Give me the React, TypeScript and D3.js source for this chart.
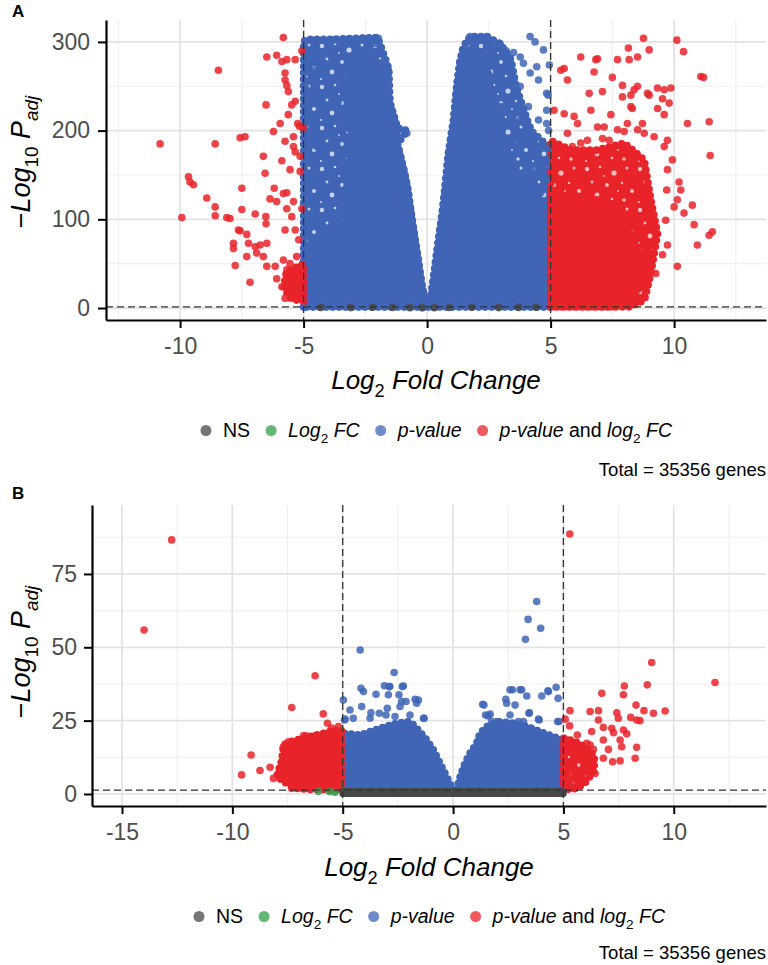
import React, { useEffect, useRef } from "react";
import * as d3 from "d3";

type Pt = [number, number];

const FONT = "'Liberation Sans', Arial, Helvetica, sans-serif";
const COL = { ns: "#474747", fc: "#2f9e46", p: "#4065b6", both: "#e8232a" };

// ---------- Panel A data (log2FC, -log10 Padj) ----------
const aXTicks = [-10, -5, 0, 5, 10];
const aXMinor = [-12.5, -7.5, -2.5, 2.5, 7.5, 12.5];
const aYTicks = [0, 100, 200, 300];
const aYMinor = [50, 150, 250];

const aNsPts: Pt[] = [[-4.3, 0.7], [-3.1, 0.5], [-2.2, 0.9], [-1.4, 0.6], [-0.7, 0.4], [-0.2, 0.2], [0.3, 0.3], [0.9, 0.6], [1.8, 0.8], [2.9, 0.5], [3.7, 0.7], [4.4, 0.9]];

const aBlueLeftOuter: Pt[] = [[-5, 1.3], [-5, 300], [-4.9, 303], [-3.8, 303], [-2.0, 305], [-1.55, 270], [-1.5, 231], [-1.2, 203], [-0.8, 200], [-1.2, 185], [-0.95, 157], [-0.8, 137], [-0.6, 99], [-0.4, 62], [-0.2, 24], [-0.05, 5], [0, 1.3]];
const aBlueLeftCore: Pt[] = [[-5, 1.3], [-5, 62], [-3.5, 99], [-3.25, 137], [-3.1, 193], [-3.25, 250], [-3.0, 275], [-2.2, 285], [-1.7, 268], [-1.5, 231], [-1.2, 203], [-1.2, 185], [-0.95, 157], [-0.8, 137], [-0.6, 99], [-0.4, 62], [-0.2, 24], [-0.05, 5], [0, 1.3]];
const aBlueRightOuter: Pt[] = [[0.05, 1.3], [0.12, 5.6], [0.39, 62], [0.66, 118], [0.86, 174], [1.07, 212], [1.2, 250], [1.34, 280], [1.47, 295], [1.74, 306], [2.42, 306], [2.96, 298], [3.4, 280], [3.6, 250], [4.2, 200], [4.6, 190], [5, 180], [5, 1.3]];
const aBlueRightCore: Pt[] = [[0.05, 1.3], [0.12, 5.6], [0.39, 62], [0.66, 118], [0.86, 174], [1.07, 212], [1.2, 250], [1.34, 280], [1.6, 292], [2.42, 280], [2.55, 250], [2.82, 212], [3.08, 174], [3.9, 137], [5, 110], [5, 1.3]];
const aRedRightOuter: Pt[] = [[5, 1.3], [5, 189], [5.82, 178], [6.88, 178], [7.98, 186], [8.79, 167], [9.06, 122], [9.33, 84], [9.06, 39], [8.8, 9], [8.2, 1.3]];
const aRedRightCore: Pt[] = [[5, 1.3], [5, 125], [5.67, 122], [6.88, 122], [7.69, 114], [8.24, 84], [8.79, 47], [8.5, 17], [7.98, 3.4], [7.5, 1.3]];
const aRedLeftCore: Pt[] = [[-5, 8], [-5, 50], [-5.3, 46], [-5.7, 40], [-5.8, 25], [-5.6, 12], [-5.3, 9]];

const aBluePts: Pt[] = [
  [-1.23, 201], [-0.89, 199], [-0.82, 197], [-1.5, 227], [-1.57, 268], [-1.97, 304], [-2.1, 298], [-4.74, 287], [-4.6, 268], [-4.94, 250], [-4.74, 234], [-4.8, 212], [-4.67, 204], [-4.47, 182], [-4.87, 167], [-4.94, 152], [-4.8, 122], [-4.74, 99], [-3.79, 302], [-3.5, 300], [-3.2, 303], [-2.9, 301], [-2.6, 304], [-2.3, 300], [-4.9, 292], [-4.3, 240], [-4.0, 226], [-3.6, 232],
  [4.17, 306], [4.37, 300], [4.71, 291], [3.77, 283], [3.9, 276], [4.44, 272], [4.17, 265], [4.51, 257], [4.84, 242], [3.36, 255], [3.77, 250], [4.1, 227], [4.84, 223], [3.36, 216], [4.17, 204], [4.1, 193], [3.77, 212], [4.51, 178], [4.84, 167], [3.9, 171], [3.23, 167], [4.3, 156], [4.71, 148], [3.63, 189], [3.02, 199], [4.84, 208], [4.51, 212], [2.96, 227], [2.55, 212], [1.74, 306], [2.0, 305], [2.2, 303], [2.42, 306], [2.7, 300], [2.96, 298], [3.2, 290], [3.5, 288], [4.95, 274], [4.9, 240], [4.92, 200], [4.95, 180], [4.9, 160], [4.85, 145], [4.6, 130], [4.2, 125]
];

const aRedPts: Pt[] = [
  [5.55, 270], [5.41, 268], [5.68, 257], [6.22, 283], [6.9, 281], [6.83, 280], [6.76, 266], [7.71, 280], [8.18, 280], [8.52, 283], [8.15, 293], [8.76, 304], [8.99, 291], [10.11, 302], [10.38, 289], [11.08, 261], [11.19, 260], [6.56, 242], [7.1, 244], [7.5, 260], [7.91, 251], [7.91, 238], [8.25, 240], [8.38, 246], [8.52, 250], [8.92, 242], [8.99, 240], [9.33, 248], [9.6, 246], [9.87, 248], [9.8, 231], [9.53, 236], [8.25, 227], [8.31, 225], [9.33, 225], [9.6, 218], [10.54, 208], [11.42, 210], [11.46, 172], [9.93, 167], [9.73, 189], [9.19, 193], [9.6, 182], [5.14, 223], [5.55, 219], [5.95, 216], [6.09, 208], [6.63, 223], [6.9, 204], [7.17, 204], [7.44, 218], [7.71, 201], [7.98, 199], [8.52, 201], [8.72, 208], [8.79, 197], [8.11, 208], [7.1, 191], [7.37, 189], [6.49, 189], [6.22, 186], [5.68, 197], [5.88, 182], [5.14, 182], [9.73, 156], [10.2, 142], [10.27, 133], [10.13, 122], [10.74, 116], [10.4, 107], [10.81, 94], [11.42, 82], [11.55, 86], [10.94, 71], [9.73, 71], [9.53, 60], [10.13, 47], [9.26, 39], [8.92, 28], [10.0, 114], [9.7, 133], [9.66, 99],
  [-5.82, 305], [-6.49, 283], [-6.09, 285], [-5.88, 278], [-5.68, 280], [-5.34, 280], [-5.07, 290], [-8.45, 268], [-5.75, 265], [-5.75, 257], [-5.68, 251], [-5.62, 244], [-5.34, 233], [-5.48, 229], [-6.52, 229], [-5.62, 218], [-5.95, 208], [-6.22, 199], [-5.24, 208], [-5.17, 205], [-5.01, 203], [-5.41, 193], [-5.75, 188], [-5.88, 166], [-5.34, 176], [-5.41, 182], [-5.14, 171], [-5.55, 156], [-5.14, 154], [-6.63, 171], [-6.56, 152], [-7.57, 192], [-7.37, 193], [-8.58, 185], [-10.81, 185], [-9.66, 148], [-9.6, 142], [-9.46, 139], [-8.92, 124], [-8.58, 114], [-8.58, 104], [-8.11, 102], [-7.98, 101], [-9.93, 102], [-7.5, 135], [-7.5, 111], [-6.96, 106], [-6.53, 103], [-6.52, 95], [-6.19, 135], [-6.36, 123], [-6.09, 120], [-5.82, 129], [-5.68, 130], [-5.41, 120], [-5.68, 112], [-5.48, 103], [-5.07, 112], [-7.64, 88], [-7.57, 87], [-7.3, 83], [-7.84, 73], [-7.84, 67], [-7.23, 73], [-6.96, 69], [-6.76, 71], [-6.49, 73], [-6.9, 62], [-6.63, 58], [-7.3, 58], [-7.77, 48], [-6.49, 47], [-6.15, 47], [-5.82, 54], [-5.75, 88], [-5.34, 88], [-5.2, 77], [-5.68, 43], [-6.09, 33], [-7.17, 29], [-5.75, 24], [-5.55, 17], [-5.75, 11], [-5.41, 11], [-5.07, 11], [-5.55, 50], [-5.28, 58], [-5.07, 47], [-5.2, 35], [-5.48, 30], [-5.07, 24], [-5.88, 24], [-5.28, 17]
];

// ---------- Panel B data ----------
const bXTicks = [-15, -10, -5, 0, 5, 10];
const bXMinor = [-12.5, -7.5, -2.5, 2.5, 7.5, 12.5];
const bYTicks = [0, 25, 50, 75];
const bYMinor = [12.5, 37.5, 62.5, 87.5];

const bNsBand: Pt[] = [[-5, 0.1], [-5, 0.9], [5, 0.9], [5, 0.1]];
const bGreenPts: Pt[] = [[-6.1, 0.9], [-5.6, 0.8], [-5.35, 0.6]];
const bBlueLeftCore: Pt[] = [[-5, 1.5], [-5, 20.7], [-4.2, 20.1], [-3.3, 22.4], [-2.55, 24.1], [-1.95, 24.7], [-1.57, 21.8], [-1.19, 18.4], [-0.89, 15], [-0.59, 10.5], [-0.29, 5.9], [-0.06, 2.5], [0.05, 1.5]];
const bBlueRightCore: Pt[] = [[0.17, 1.5], [0.17, 1.9], [0.32, 5.9], [0.54, 10.5], [0.77, 13.9], [1.07, 17.3], [1.22, 20.7], [1.53, 23], [2.13, 24.7], [2.73, 24.1], [3.34, 23], [3.94, 21.3], [4.55, 19.5], [5, 18.4], [5, 1.5]];
const bRedLeftCore: Pt[] = [[-5.05, 1.5], [-5.05, 21.8], [-5.57, 21.3], [-6.18, 20.1], [-6.78, 19], [-7.39, 17.8], [-7.69, 16.1], [-7.76, 11.6], [-7.99, 5.9], [-7.54, 3.6], [-7.08, 1.9], [-6.5, 1.5]];
const bRedRightCore: Pt[] = [[5, 1.5], [5, 19], [5.5, 18], [6.0, 16], [6.4, 13], [6.4, 8], [6.0, 4], [5.6, 1.8]];

const bBluePts: Pt[] = [
  [-4.17, 36], [-4.06, 34.9], [-3.49, 34], [-2.67, 41.4], [-3.11, 36.9], [-2.86, 36.6], [-2.25, 36.8], [-2.93, 33.8], [-2.45, 33.8], [-2.33, 31.5], [-2.13, 31.5], [-1.72, 32.3], [-1.57, 32], [-1.65, 30.9], [-4.97, 32], [-4.67, 28.6], [-4.92, 25.2], [-4.52, 25.8], [-4.14, 29.8], [-3.72, 27.7], [-3.34, 27.5], [-2.98, 29.2], [-3.04, 26.9], [-2.63, 26.4], [-1.34, 25.8], [-2.4, 29.8], [-3.76, 25.8], [-1.95, 26.9], [-4.21, 49.1], [-4.89, 25.5], [-2.9, 36.6], [-2.3, 36.6], [-1.31, 25.8],
  [1.34, 30.6], [1.47, 26.9], [1.68, 27.2], [1.75, 24.7], [1.98, 24.7], [2.39, 32.3], [2.43, 30.9], [2.58, 35.5], [2.81, 30.3], [3.04, 35.5], [3.34, 33.4], [2.58, 26.9], [2.96, 24.7], [3.19, 24.7], [3.46, 27.7], [3.87, 25.5], [4.02, 33.4], [4.32, 34.9], [4.67, 36.4], [4.74, 24.7], [4.7, 18.4], [3.79, 65.6], [3.4, 59.5], [3.97, 56.5], [3.28, 52.7], [2.69, 35.5], [3.11, 35.5], [4.3, 35.2], [4.76, 32.6], [1.4, 30.3], [4.8, 24.7], [3.9, 25.2], [3.44, 27.5], [1.59, 26.6]
];

const bRedPts: Pt[] = [
  [5.29, 88.6], [9.0, 44.8], [11.87, 38], [7.76, 36.8], [8.8, 37.2], [6.74, 34.3], [7.72, 33.8], [8.29, 30.3], [8.65, 28.4], [9.61, 28.3], [9.08, 27.5], [5.3, 28.4], [6.21, 28.1], [6.59, 28.4], [7.42, 27.7], [7.49, 25.8], [8.05, 26.1], [8.32, 25.2], [8.47, 25], [6.59, 25.2], [5.08, 25.5], [5.28, 23.2], [6.81, 22.7], [7.19, 22.4], [7.27, 20.9], [7.72, 21.8], [7.87, 20.5], [6.28, 21.3], [5.63, 20.1], [5.15, 18.4], [5.3, 17.8], [6.81, 18.4], [7.57, 18.4], [6.06, 17.3], [6.21, 16.7], [7.64, 16.1], [8.32, 15.9], [7.04, 15.2], [5.45, 13.9], [5.83, 15.6], [6.36, 15.2], [6.81, 12.2], [7.23, 11], [7.57, 11.3], [8.25, 12.2], [5.75, 11.6], [5.91, 9.3], [6.44, 7], [5.45, 9.9], [5.6, 3.6], [5.38, 6.5], [5.15, 4.8],
  [-12.75, 86.6], [-14.0, 55.9], [-6.25, 40.3], [-7.31, 29.5], [-5.88, 27.3], [-5.69, 24.1], [-9.15, 13.3], [-8.75, 8], [-8.29, 9.1], [-9.58, 6.5], [-7.46, 17.8], [-7.69, 16.1], [-6.66, 19.8], [-8.14, 5.3], [-7.76, 5.9], [-7.31, 1.9], [-7.61, 17], [-6.78, 19.8], [-6.25, 19.8], [-5.42, 20.7], [-7.39, 14.4], [-5.2, 23], [-5.5, 22.5]
];

// ---------- Legend / labels ----------
type Part = { t: string; i?: boolean; s?: boolean };
const legendLabels: Part[][] = [
  [{ t: "NS" }],
  [{ t: "Log", i: true }, { t: "2", s: true }, { t: " FC", i: true }],
  [{ t: "p-value", i: true }],
  [{ t: "p-value", i: true }, { t: " and " }, { t: "log", i: true }, { t: "2", s: true }, { t: " FC", i: true }],
];
const legendColors = [COL.ns, COL.fc, COL.p, COL.both];
const totalText = "Total = 35356 genes";
const xTitleParts: Part[] = [{ t: "Log", i: true }, { t: "2", s: true }, { t: " Fold Change", i: true }];
const yTitleParts: Part[] = [{ t: "\u2212" }, { t: "Log", i: true }, { t: "10", s: true }, { t: " P", i: true }, { t: "adj", i: true, s: true }];

interface Poly { pts: Pt[]; color: string; speckle?: boolean }
interface Spec {
  letter: string; letterY: number;
  left: number; right: number; top: number; bottom: number;
  xDomain: [number, number]; yDomain: [number, number];
  xTicks: number[]; xMinor: number[]; yTicks: number[]; yMinor: number[];
  polys: Poly[]; band?: Pt[]; points: { pts: Pt[]; color: string }[];
  yPad: number; xTitleY: number; yTitleX: number; yTitleCY: number; legendY: number; totalY: number;
}

const r = 3.8;

function addParts(text: any, parts: Part[], size: number) {
  let shifted = false;
  parts.forEach((p) => {
    const ts = text.append("tspan").text(p.t).attr("font-style", p.i ? "italic" : "normal");
    if (p.s) {
      ts.attr("font-size", size * 0.7).attr("dy", shifted ? 0 : size * 0.3);
      shifted = true;
    } else {
      ts.attr("font-size", size);
      if (shifted) { ts.attr("dy", -size * 0.3); shifted = false; }
    }
  });
}

function addPatterns(svg: any) {
  const defs = svg.append("defs");
  const W = 53, H = 41;
  const holes: [number, number, number][] = [
    [4, 5, 2.2], [17, 3, 1.3], [31, 9, 2.6], [44, 4, 1.5], [9, 18, 1.4], [24, 21, 1.9], [39, 19, 1.2],
    [49, 27, 2.0], [14, 31, 2.4], [29, 35, 1.3], [41, 36, 1.7], [3, 38, 1.1], [21, 12, 0.9], [35, 27, 1.0]
  ];
  [["p", COL.p], ["both", COL.both]].forEach(([k, c]) => {
    const pat = defs.append("pattern").attr("id", "speck-" + k).attr("patternUnits", "userSpaceOnUse")
      .attr("width", W).attr("height", H);
    pat.append("rect").attr("width", W).attr("height", H).attr("fill", c);
    holes.forEach(([hx, hy, hr]) => {
      pat.append("circle").attr("cx", hx).attr("cy", hy).attr("r", hr).attr("fill", "#fff").attr("fill-opacity", 0.7);
    });
  });
}

function drawPanel(svg: any, s: Spec) {
  const x = d3.scaleLinear().domain(s.xDomain).range([s.left, s.right]);
  const y = d3.scaleLinear().domain(s.yDomain).range([s.bottom, s.top]);
  const g = svg.append("g");
  const clipId = "clip" + s.letter;
  g.append("clipPath").attr("id", clipId).append("rect")
    .attr("x", s.left).attr("y", s.top).attr("width", s.right - s.left).attr("height", s.bottom - s.top);

  const grid = g.append("g");
  grid.selectAll(".vmin").data(s.xMinor).join("line")
    .attr("x1", (d: number) => x(d)).attr("x2", (d: number) => x(d)).attr("y1", s.top).attr("y2", s.bottom)
    .attr("stroke", "#efefef").attr("stroke-width", 1.1);
  grid.selectAll(".hmin").data(s.yMinor).join("line")
    .attr("y1", (d: number) => y(d)).attr("y2", (d: number) => y(d)).attr("x1", s.left).attr("x2", s.right)
    .attr("stroke", "#efefef").attr("stroke-width", 1.1);
  grid.selectAll(".vmaj").data(s.xTicks).join("line")
    .attr("x1", (d: number) => x(d)).attr("x2", (d: number) => x(d)).attr("y1", s.top).attr("y2", s.bottom)
    .attr("stroke", "#e3e3e3").attr("stroke-width", 1.8);
  grid.selectAll(".hmaj").data(s.yTicks).join("line")
    .attr("y1", (d: number) => y(d)).attr("y2", (d: number) => y(d)).attr("x1", s.left).attr("x2", s.right)
    .attr("stroke", "#e3e3e3").attr("stroke-width", 1.8);

  const plot = g.append("g").attr("clip-path", `url(#${clipId})`);
  const line = d3.line<Pt>().x((d) => x(d[0])).y((d) => y(d[1])).curve(d3.curveLinearClosed);
  const drawPoly = (p: Poly) => {
    const key = p.color === COL.p ? "p" : p.color === COL.both ? "both" : "";
    plot.append("path").attr("d", line(p.pts))
      .attr("fill", p.speckle && key ? `url(#speck-${key})` : p.color);
    plot.append("path").attr("d", line(p.pts))
      .attr("fill", "none").attr("stroke", p.color)
      .attr("stroke-width", 2 * r).attr("stroke-linecap", "round").attr("stroke-linejoin", "round")
      .attr("stroke-dasharray", "0 6.5");
  };
  s.polys.forEach(drawPoly);
  if (s.band) {
    plot.append("path").attr("d", line(s.band))
      .attr("fill", COL.ns).attr("stroke", COL.ns).attr("stroke-width", 2 * r - 1).attr("stroke-linejoin", "round");
  }
  s.points.forEach((set) => {
    plot.append("g").selectAll("circle").data(set.pts).join("circle")
      .attr("cx", (d: Pt) => x(d[0])).attr("cy", (d: Pt) => y(d[1])).attr("r", r)
      .attr("fill", set.color).attr("fill-opacity", 0.85);
  });

  const cut = -Math.log10(0.05);
  plot.append("line").attr("x1", s.left).attr("x2", s.right).attr("y1", y(cut)).attr("y2", y(cut))
    .attr("stroke", "#333").attr("stroke-width", 1.3).attr("stroke-dasharray", "7,4");
  [-5, 5].forEach((v) => {
    plot.append("line").attr("x1", x(v)).attr("x2", x(v)).attr("y1", s.top).attr("y2", s.bottom)
      .attr("stroke", "#333").attr("stroke-width", 1.3).attr("stroke-dasharray", "7,4");
  });

  const ax = g.append("g").attr("transform", `translate(0,${s.bottom})`)
    .call(d3.axisBottom(x).tickValues(s.xTicks).tickSize(8).tickSizeOuter(0).tickPadding(10).tickFormat((d: any) => String(d)));
  const ay = g.append("g").attr("transform", `translate(${s.left},0)`)
    .call(d3.axisLeft(y).tickValues(s.yTicks).tickSize(8).tickSizeOuter(0).tickPadding(s.yPad).tickFormat((d: any) => String(d)));
  [ax, ay].forEach((a: any) => {
    a.select(".domain").attr("stroke", "#000").attr("stroke-width", 2.2);
    a.selectAll(".tick line").attr("stroke", "#000").attr("stroke-width", 2);
    a.selectAll(".tick text").attr("font-family", FONT).attr("font-size", 23).attr("fill", "#4d4d4d");
  });

  const xt = g.append("text").attr("x", (s.left + s.right) / 2).attr("y", s.xTitleY)
    .attr("text-anchor", "middle").attr("font-family", FONT).attr("fill", "#000");
  addParts(xt, xTitleParts, 26);
  const yt = g.append("text").attr("transform", `translate(${s.yTitleX},${s.yTitleCY}) rotate(-90)`)
    .attr("text-anchor", "middle").attr("font-family", FONT).attr("fill", "#000");
  addParts(yt, yTitleParts, 27);

  g.append("text").attr("x", 12).attr("y", s.letterY).text(s.letter)
    .attr("font-family", FONT).attr("font-weight", "bold").attr("font-size", 17);

  const lg = g.append("g");
  const items: { dot: any; text: any; w: number }[] = [];
  legendLabels.forEach((parts, i) => {
    const dot = lg.append("circle").attr("r", 5.5).attr("cy", s.legendY - 6.5).attr("fill", legendColors[i]).attr("fill-opacity", 0.75);
    const t = lg.append("text").attr("y", s.legendY).attr("font-family", FONT).attr("fill", "#000");
    addParts(t, parts, 19.5);
    const w = (t.node() as SVGTextElement).getComputedTextLength();
    items.push({ dot, text: t, w });
  });
  const gapDot = 17, gapNext = 21;
  let total = 0;
  items.forEach((it, i) => { total += gapDot + it.w + (i < items.length - 1 ? gapNext : 0); });
  let cx = (s.left + s.right) / 2 - (total + 6) / 2 + 6;
  items.forEach((it) => {
    it.dot.attr("cx", cx);
    it.text.attr("x", cx + gapDot);
    cx = cx + gapDot + it.w + gapNext;
  });
  g.append("text").attr("x", 766).attr("y", s.totalY).attr("text-anchor", "end")
    .attr("font-family", FONT).attr("font-size", 18.5).text(totalText);
}

export default function App() {
  const ref = useRef<SVGSVGElement>(null);
  useEffect(() => {
    const svg = d3.select(ref.current);
    svg.selectAll("*").remove();
    addPatterns(svg);
    const specA: Spec = {
      letter: "A", letterY: 17,
      left: 106, right: 766, top: 20, bottom: 320,
      xDomain: [-13.0, 13.72], yDomain: [-13.5, 324.7],
      xTicks: aXTicks, xMinor: aXMinor, yTicks: aYTicks, yMinor: aYMinor,
      polys: [
        { pts: aBlueLeftOuter, color: COL.p, speckle: true },
        { pts: aBlueRightOuter, color: COL.p, speckle: true },
        { pts: aBlueLeftCore, color: COL.p },
        { pts: aBlueRightCore, color: COL.p },
        { pts: aRedRightOuter, color: COL.both, speckle: true },
        { pts: aRedRightCore, color: COL.both },
        { pts: aRedLeftCore, color: COL.both },
      ],
      points: [
        { pts: aNsPts, color: COL.ns },
        { pts: aBluePts, color: COL.p },
        { pts: aRedPts, color: COL.both },
      ],
      yPad: 8, xTitleY: 389, yTitleX: 30, yTitleCY: 162, legendY: 437, totalY: 476,
    };
    const specB: Spec = {
      letter: "B", letterY: 499,
      left: 92, right: 766, top: 505, bottom: 806,
      xDomain: [-16.36, 14.18], yDomain: [-4.1, 98.5],
      xTicks: bXTicks, xMinor: bXMinor, yTicks: bYTicks, yMinor: bYMinor,
      polys: [
        { pts: bBlueLeftCore, color: COL.p },
        { pts: bBlueRightCore, color: COL.p },
        { pts: bRedLeftCore, color: COL.both },
        { pts: bRedRightCore, color: COL.both, speckle: true },
      ],
      band: bNsBand,
      points: [
        { pts: bGreenPts, color: COL.fc },
        { pts: bBluePts, color: COL.p },
        { pts: bRedPts, color: COL.both },
      ],
      yPad: 7, xTitleY: 876, yTitleX: 30, yTitleCY: 652, legendY: 923, totalY: 959,
    };
    drawPanel(svg, specA);
    drawPanel(svg, specB);
  }, []);
  return (
    <svg ref={ref} width={768} height={965} style={{ position: "absolute", left: 0, top: 0, background: "#fff" }} />
  );
}
